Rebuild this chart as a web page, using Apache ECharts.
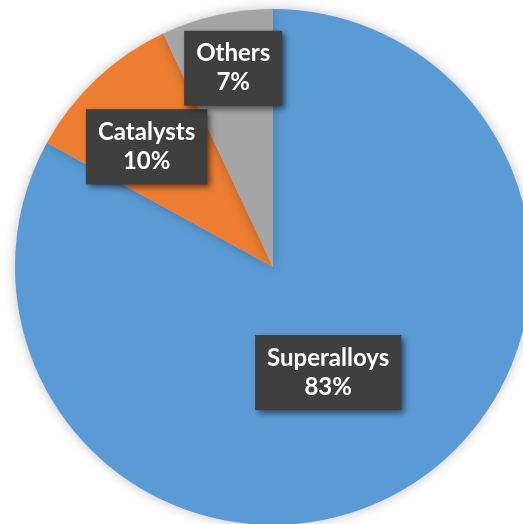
<!DOCTYPE html>
<html><head><meta charset="utf-8">
<script src="https://cdn.jsdelivr.net/npm/echarts@6/dist/echarts.min.js"></script>
<style>html,body{margin:0;padding:0;background:#fff}#c{width:523px;height:524px}</style>
</head><body><div id="c"></div>
<script>
const categories = ['Superalloys', 'Catalysts', 'Others'];
const values = [83, 10, 7];
const colors = ['#5B9BD5', '#ED7D31', '#A5A5A5'];
const labelOffsets = [[-12, -8], [-36, -24], [-11, -70]];

const chart = echarts.init(document.getElementById('c'), null, {renderer: 'canvas'});
chart.setOption({
  animation: false,
  series: [{
    type: 'pie',
    center: [273, 267],
    radius: 258,
    startAngle: 90,
    clockwise: true,
    data: categories.map((n, i) => ({
      name: n, value: values[i],
      itemStyle: {color: colors[i]},
      label: {offset: labelOffsets[i]}
    })),
    itemStyle: {shadowBlur: 12, shadowColor: 'rgba(0,0,0,0.25)'},
    label: {
      show: true,
      position: 'inside',
      formatter: p => p.name + '\n' + p.percent.toFixed(0) + '%',
      color: '#fff',
      fontFamily: 'Lato',
      fontWeight: 'bold',
      fontSize: 24,
      lineHeight: 29,
      backgroundColor: '#3f3f3f',
      padding: [9, 12, 8, 12],
      shadowColor: 'rgba(0,0,0,0.55)',
      shadowBlur: 6,
      shadowOffsetX: 3,
      shadowOffsetY: 3
    },
    labelLine: {show: false}
  }]
});
</script></body></html>
